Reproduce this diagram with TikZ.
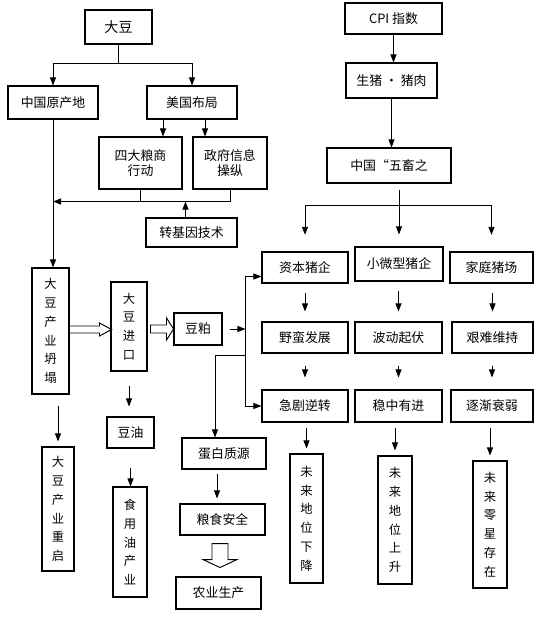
\documentclass[tikz,border=0pt]{standalone}
\usepackage{fontspec}
\newfontfamily\cjk{Noto Sans CJK SC}
\usetikzlibrary{calc,positioning,arrows.meta}
\tikzset{
  box/.style={draw,line width=0.9pt,inner sep=1pt,align=center,
              font=\cjk\fontsize{11}{13}\selectfont},
  vbox/.style={box,font=\cjk\fontsize{10.5}{16}\selectfont},
  sz/.style 2 args={minimum width=#1*0.3mm,minimum height=#2*0.3mm},
  link/.style={line width=0.8pt},
  arr/.style={line width=0.8pt,-{Triangle[length=2.4mm,width=1.8mm]}},
  fat/.style={draw,line width=0.8pt,line join=miter,fill=white},
}

\begin{document}
\begin{tikzpicture}[x=0.3mm,y=-0.3mm]
  \useasboundingbox (0,0) rectangle (539,620);
  % soybean branch
  \node[box,sz={67}{34},font=\cjk\fontsize{12}{14}\selectfont] (dadou) at (118.5,27) {大豆};
  \node[box,sz={90}{33}] (zgycd) at (53,102.5) {中国原产地};
  \node[box,sz={90}{33}] (mgbj) at (192,102.5) {美国布局};
  \node[box,sz={83}{52}] (sdls) at (140.5,163) {四大粮商\\行动};
  \node[box,sz={74}{52}] (zfxx) at (230,163) {政府信息\\操纵};
  \node[box,sz={91}{29}] (zjy) at (191.5,232.5) {转基因技术};
  \node[vbox,sz={37}{126}] (ddty) at (50.5,331) {大\\豆\\产\\业\\坍\\塌};
  \node[vbox,sz={36}{89}] (ddjk) at (129,326.5) {大\\豆\\进\\口};
  \node[box,sz={48}{32}] (dp) at (198,329) {豆粕};
  \node[box,sz={47}{31}] (dy) at (130.5,432.5) {豆油};
  \node[vbox,sz={34}{110}] (syy) at (130,542) {食\\用\\油\\产\\业};
  \node[vbox,sz={32}{124}] (ddcq) at (58,509) {大\\豆\\产\\业\\重\\启};
  \node[box,sz={84}{31}] (dbzy) at (224,453.5) {蛋白质源};
  \node[box,sz={85}{31}] (lsaq) at (222.5,519.5) {粮食安全};
  \node[box,sz={85}{32}] (nysc) at (218.5,593) {农业生产};
  % hollow arrows
  \draw[fat] ($(ddty.east)+(0,-5)$) -- ++(30,0) -- ++(0,-3) -- ++(12,6.5)
    -- ++(-12,6.5) -- ++(0,-3) -- ++(-30,0) -- cycle;
  \draw[fat] ($(ddjk.east)+(3,-1.5)$) -- ++(16,0) -- ++(0,-7) -- ++(7,11)
    -- ++(-7,11) -- ++(0,-7) -- ++(-16,0) -- cycle;
  \draw[fat] ($(lsaq.south)+(-10.5,8)$) -- ++(16,0) -- ++(0,16) -- ++(9,0)
    -- ++(-17,8) -- ++(-17,-8) -- ++(9,0) -- cycle;
  % pork branch
  \node[box,sz={97}{31}] (cpi) at (393.5,18.5) {CPI 指数};
  \node[box,sz={91}{35}] (szzr) at (391.5,80.5) {生猪 • 猪肉};
  \node[box,sz={124}{35}] (wcz) at (389,165.5) {中国“五畜之};
  \node[box,sz={86}{31}] (zbzq) at (305,267.5) {资本猪企};
  \node[box,sz={88}{34}] (xwx) at (399,264) {小微型猪企};
  \node[box,sz={83}{31}] (jtzc) at (491.5,267.5) {家庭猪场};
  \node[box,sz={86}{31}] (ymfz) at (305,337.5) {野蛮发展};
  \node[box,sz={87}{31}] (bdqf) at (398.5,337.5) {波动起伏};
  \node[box,sz={81}{31}] (jnwc) at (492.5,337.5) {艰难维持};
  \node[box,sz={86}{32}] (jjnz) at (305,406) {急剧逆转};
  \node[box,sz={87}{32}] (wzyj) at (398.5,406) {稳中有进};
  \node[box,sz={82}{32}] (zjsr) at (492,406) {逐渐衰弱};
  \node[vbox,sz={33}{129}] (wlxj) at (306.5,518.5) {未\\来\\地\\位\\下\\降};
  \node[vbox,sz={34}{128}] (wlss) at (395,520) {未\\来\\地\\位\\上\\升};
  \node[vbox,sz={34}{127}] (wlcz) at (490,524.5) {未\\来\\零\\星\\存\\在};
  % connectors, soybean
  \draw[link] (dadou.south) -- ++(0,19) coordinate (dz);
  \draw[arr] (dz) -| (zgycd.north);
  \draw[arr] (dz) -| (mgbj.north);
  \draw[arr] ($(mgbj.south)+(-29,0)$) coordinate (m1) -- (m1 |- sdls.north);
  \draw[arr] ($(mgbj.south)+(13,0)$) coordinate (m2) -- (m2 |- zfxx.north);
  \path (zgycd.south) ++(0,82) coordinate (jn);
  \draw[arr] (zfxx.south) |- (jn);
  \draw[link] (sdls.south) -- (sdls.south |- jn);
  \draw[arr] ($(zjy.north)+(-6,0)$) coordinate (zt) -- (zt |- jn);
  \draw[arr] (zgycd.south) -- (zgycd.south |- ddty.north);
  \draw[arr,shorten <=3.3mm,shorten >=1.5mm] (ddty.south -| ddcq.north) -- (ddcq.north);
  \draw[arr,shorten <=4.2mm,shorten >=3mm] (ddjk.south) -- (ddjk.south |- dy.north);
  \draw[arr,shorten <=5.7mm] (dy.south) -- (dy.south |- syy.north);
  \draw[arr,shorten <=1.2mm,shorten >=1.5mm] ($(dbzy.south)+(-7,0)$) coordinate (q) -- (q |- lsaq.north);
  % bracket to the pig farms
  \coordinate (bt) at ($(zbzq.west)+(-16,9)$);
  \coordinate (bb) at (jjnz.west -| bt);
  \coordinate (bm) at (dp.east -| bt);
  \draw[link] (bt) -- (bb);
  \draw[arr] (bt) -- (bt -| zbzq.west);
  \draw[arr] (bb) -- (jjnz.west);
  \draw[arr] ($(dp.east)+(7,0)$) -- (bm);
  \draw[arr] ($(bm)+(0,26)$) -| ($(dbzy.north)+(-9,0)$);
  % connectors, pork
  \draw[arr] (cpi.south) -- (cpi.south |- szzr.north);
  \draw[arr] (szzr.south) -- (szzr.south |- wcz.north);
  \draw[link,shorten <=2mm] (wcz.south -| xwx.north) -- ++(0,22) coordinate (wz);
  \draw[link] (wz -| zbzq.north) -- (wz -| jtzc.north);
  \draw[arr,shorten >=5mm] (wz -| zbzq.north) -- (zbzq.north);
  \draw[arr,shorten >=3.6mm] (wz) -- (xwx.north);
  \draw[arr,shorten >=5mm] (wz -| jtzc.north) -- (jtzc.north);
  \foreach \a/\b in {zbzq/ymfz,xwx/bdqf,jtzc/jnwc}
    \draw[arr,shorten <=2.7mm,shorten >=3mm] (\a.south -| \b.north) -- (\b.north);
  \foreach \a/\b in {ymfz/jjnz,bdqf/wzyj,jnwc/zjsr}
    \draw[arr,shorten <=3.6mm,shorten >=3.6mm] (\a.south -| \b.north) -- (\b.north);
  \foreach \a/\b in {jjnz/wlxj,wzyj/wlss,zjsr/wlcz}
    \draw[arr,shorten <=1.5mm,shorten >=1.5mm] (\a.south -| \b.north) -- (\b.north);
\end{tikzpicture}
\end{document}
